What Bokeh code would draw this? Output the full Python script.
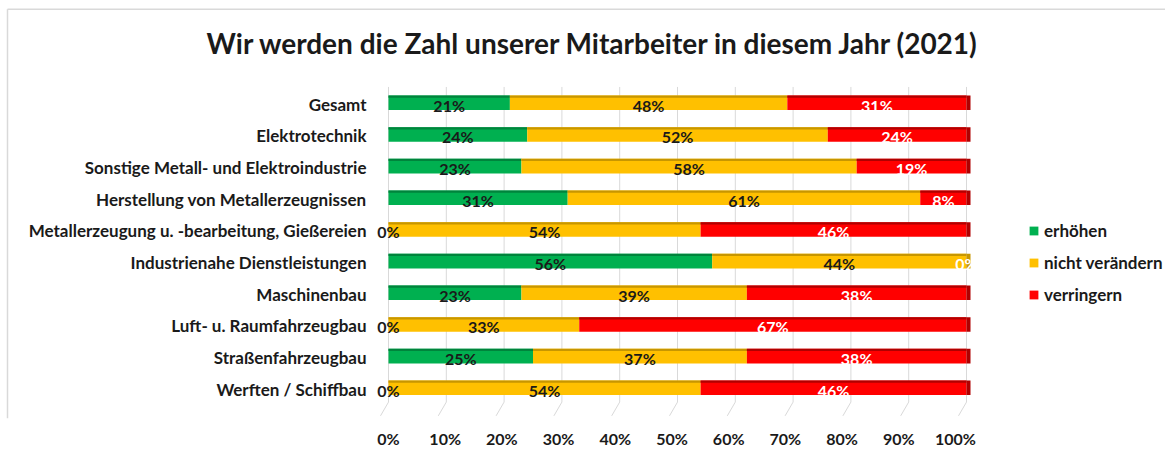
from bokeh.plotting import figure
from bokeh.models import (ColumnDataSource, Range1d, FixedTicker, Legend, LegendItem,
                          NumeralTickFormatter, LinearAxis)
from bokeh.core.properties import value
from bokeh.embed import file_html
from bokeh.resources import INLINE

title = "Wir werden die Zahl unserer Mitarbeiter in diesem Jahr (2021)"
categories = [
    "Gesamt",
    "Elektrotechnik",
    "Sonstige Metall- und Elektroindustrie",
    "Herstellung von Metallerzeugnissen",
    "Metallerzeugung u. -bearbeitung, Gießereien",
    "Industrienahe Dienstleistungen",
    "Maschinenbau",
    "Luft- u. Raumfahrzeugbau",
    "Straßenfahrzeugbau",
    "Werften / Schiffbau",
]
series_names = ["erhöhen", "nicht verändern", "verringern"]
erhoehen = [21, 24, 23, 31, 0, 56, 23, 0, 25, 0]
nicht_veraendern = [48, 52, 58, 61, 54, 44, 39, 33, 37, 54]
verringern = [31, 24, 19, 8, 46, 0, 38, 67, 38, 46]
x_ticks = [0, 10, 20, 30, 40, 50, 60, 70, 80, 90, 100]

colors = ["#00B050", "#FFC000", "#FF0000"]
dark_colors = ["#00843C", "#C79600", "#B00000"]
text_colors = ["#1a1a1a", "#1a1a1a", "#ffffff"]
FONT = "Lato"

# ---- layout (pixels) ----
W, H = 1165, 450
FRAME_BOTTOM = 425          # frame covers 0..425 px vertically, 0..W horizontally
X0, X1 = 388, 966           # pixel position of 0 % and 100 % (bars)
LX0, LX1 = 388, 955         # pixel position of 0 % and 100 % tick labels (3D floor front)
Y_FIRST, ROW = 104, 32.2    # pixel centre of first row, row pitch
PXX = 1.0 / (X1 - X0)       # data units per pixel (x)
PXY = 1.0 / ROW             # data units per pixel (y)


def px_x(px):
    return (px - X0) * PXX


def px_y(py):
    return (py - Y_FIRST) * PXY


p = figure(width=W, height=H, output_backend="svg", toolbar_location=None,
           x_range=Range1d(px_x(0), px_x(W)),
           y_range=Range1d(px_y(FRAME_BOTTOM), px_y(0)),
           x_axis_location=None,
           min_border_left=0, min_border_right=0, min_border_top=0,
           min_border_bottom=H - FRAME_BOTTOM)
p.extra_x_ranges = {"floor": Range1d((0 - LX0) / (LX1 - LX0), (W - LX0) / (LX1 - LX0))}
p.outline_line_color = None
p.background_fill_color = "white"
p.border_fill_color = "white"
p.yaxis.visible = False
p.grid.visible = False

n = len(categories)
ys = list(range(n))

# chart border (light grey, top and left)
p.segment(x0=[px_x(7), px_x(7)], y0=[px_y(9), px_y(9)],
          x1=[px_x(W), px_x(7)], y1=[px_y(9), px_y(FRAME_BOTTOM)],
          line_color="#D9D9D9", line_width=1.5)

# vertical gridlines + 3D floor lines
gx = [t / 100 for t in x_ticks]
p.segment(x0=gx, y0=[-0.5] * len(gx), x1=gx, y1=[n - 0.55] * len(gx),
          line_color="#D9D9D9", line_width=1)
p.segment(x0=gx, y0=[n - 0.55] * len(gx), x1=[g - 8 * PXX for g in gx],
          y1=[n - 0.55 + 14 * PXY] * len(gx), line_color="#D9D9D9", line_width=1)

series = [erhoehen, nicht_veraendern, verringern]
bar_h = 0.46
renderers = []
left = [0] * n
for si, vals in enumerate(series):
    l = [a / 100 for a in left]
    r = [(a + v) / 100 for a, v in zip(left, vals)]
    src = ColumnDataSource(dict(y=ys, left=l, right=r,
                                ytop=[y - bar_h / 2 + 0.035 for y in ys],
                                xc=[(a + b) / 2 for a, b in zip(l, r)],
                                ty=[y + 0.07 for y in ys],
                                txt=[f"{v}%" for v in vals]))
    rr = p.hbar(y="y", left="left", right="right", height=bar_h, source=src,
                fill_color=colors[si], line_color=None)
    p.hbar(y="ytop", left="left", right="right", height=0.07, source=src,
           fill_color=dark_colors[si], line_color=None)
    renderers.append((rr, src, si))
    left = [a + v for a, v in zip(left, vals)]

# right side face of each bar, coloured like its last non-zero segment
side_col = []
for i in range(n):
    last = max(si for si, s in enumerate(series) if s[i] > 0)
    side_col.append(dark_colors[last])
p.hbar(y=ys, left=[1.0] * n, right=[1.0 + 4 * PXX] * n, height=bar_h,
       fill_color=side_col, line_color=None)

# value labels
for rr, src, si in renderers:
    p.text(x="xc", y="ty", text="txt", source=src, text_align="center",
           text_baseline="middle", text_font=value(FONT), text_font_style="bold",
           text_font_size="16px", text_color=text_colors[si])

# category labels
p.text(x=[px_x(366)] * n, y=[y + 0.04 for y in ys], text=categories,
       text_align="right", text_baseline="middle", text_font=value(FONT),
       text_font_style="bold", text_font_size="17px", text_color="#1a1a1a")

# title
p.text(x=[px_x(593)], y=[px_y(43)], text=[title], text_align="center",
       text_baseline="middle", text_font=value(FONT), text_font_style="bold",
       text_font_size="28px", text_color="#1a1a1a")

# x axis (labels sit on the front edge of the 3D floor)
xaxis = LinearAxis(x_range_name="floor")
xaxis.ticker = FixedTicker(ticks=gx)
xaxis.formatter = NumeralTickFormatter(format="0%")
xaxis.axis_line_color = None
xaxis.major_tick_line_color = None
xaxis.minor_tick_line_color = None
xaxis.major_label_standoff = 4
xaxis.major_label_text_font = FONT
xaxis.major_label_text_font_style = "bold"
xaxis.major_label_text_font_size = "16px"
xaxis.major_label_text_color = "#1a1a1a"
p.add_layout(xaxis, "below")

legend = Legend(items=[LegendItem(label=nm, renderers=[r[0]]) for nm, r in zip(series_names, renderers)],
                location=(1028, FRAME_BOTTOM - 312), border_line_color=None,
                background_fill_alpha=0,
                label_text_font=FONT, label_text_font_size="17px",
                label_text_font_style="bold", label_text_color="#1a1a1a",
                glyph_width=11, glyph_height=11, label_height=20, spacing=11,
                padding=0, margin=0, label_standoff=5)
p.add_layout(legend)

open("out.html", "w").write(file_html(p, INLINE))
